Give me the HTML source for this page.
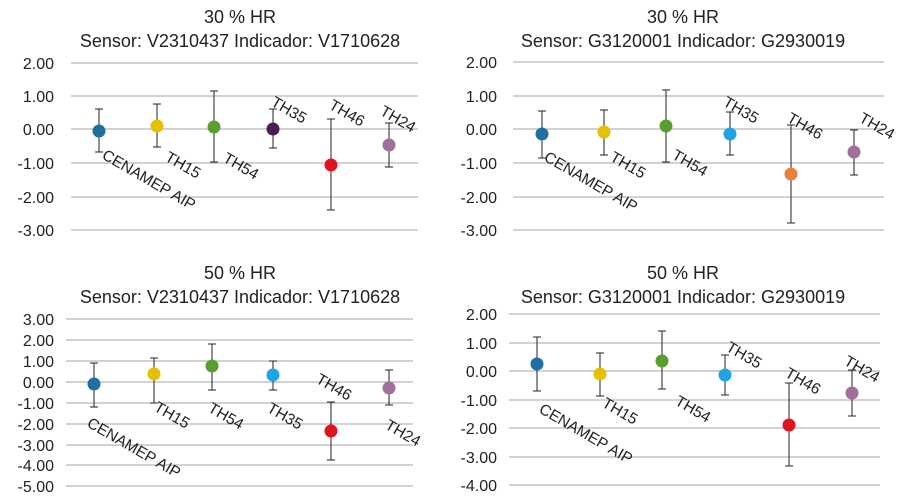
<!DOCTYPE html>
<html><head><meta charset="utf-8"><style>
body{margin:0;background:#fff;}
svg{display:block;font-family:"Liberation Sans",sans-serif;}
.t{font-size:18px;fill:#222;text-anchor:middle}
.k{font-size:16px;fill:#222;text-anchor:end}
.g{stroke:#a6a6a6;stroke-width:1}
.e{stroke:#222;stroke-width:1;fill:none}
.l{font-size:15.5px;fill:#222}
</style></head><body>
<svg width="897" height="502" viewBox="0 0 897 502">
<!-- Chart 1 -->
<text class="t" x="240" y="23">30 % HR</text>
<text class="t" x="240" y="47">Sensor: V2310437 Indicador: V1710628</text>
<g class="k"><text x="54" y="69">2.00</text><text x="54" y="102">1.00</text><text x="54" y="135">0.00</text><text x="54" y="169">-1.00</text><text x="54" y="203">-2.00</text><text x="54" y="236">-3.00</text></g>
<g class="g"><line x1="71" x2="418" y1="63" y2="63"/><line x1="71" x2="418" y1="96" y2="96"/><line x1="71" x2="418" y1="129" y2="129"/><line x1="71" x2="418" y1="163" y2="163"/><line x1="71" x2="418" y1="197" y2="197"/><line x1="71" x2="418" y1="230" y2="230"/></g>
<g class="e"><path d="M99 109V152M95 109h8M95 152h8M157 104V147M153 104h8M153 147h8M214 91V162M210 91h8M210 162h8M273 109V148M269 109h8M269 148h8M331 119V210M327 119h8M327 210h8M389 123V167M385 123h8M385 167h8"/></g>
<circle cx="99" cy="131" r="6.5" fill="#1f6fa0"/><circle cx="157" cy="126" r="6.5" fill="#e5c000"/><circle cx="214" cy="127" r="6.5" fill="#5a9e2f"/><circle cx="273" cy="129" r="6.5" fill="#4a1e55"/><circle cx="331" cy="165" r="6.5" fill="#e0141e"/><circle cx="389" cy="145" r="6.5" fill="#a0709a"/>
<g class="l"><text transform="translate(101,158) rotate(30)">CENAMEP AIP</text><text transform="translate(164,160) rotate(30)">TH15</text><text transform="translate(222,161) rotate(30)">TH54</text><text transform="translate(270,105) rotate(30)">TH35</text><text transform="translate(328,108) rotate(30)">TH46</text><text transform="translate(379,114) rotate(30)">TH24</text></g>

<!-- Chart 2 -->
<text class="t" x="683" y="23">30 % HR</text>
<text class="t" x="683" y="47">Sensor: G3120001 Indicador: G2930019</text>
<g class="k"><text x="497" y="68">2.00</text><text x="497" y="102">1.00</text><text x="497" y="135">0.00</text><text x="497" y="169">-1.00</text><text x="497" y="203">-2.00</text><text x="497" y="236">-3.00</text></g>
<g class="g"><line x1="513" x2="884" y1="62" y2="62"/><line x1="513" x2="884" y1="96" y2="96"/><line x1="513" x2="884" y1="129" y2="129"/><line x1="513" x2="884" y1="163" y2="163"/><line x1="513" x2="884" y1="197" y2="197"/><line x1="513" x2="884" y1="230" y2="230"/></g>
<g class="e"><path d="M542 111V158M538 111h8M538 158h8M604 110V155M600 110h8M600 155h8M666 90V162M662 90h8M662 162h8M730 112V155M726 112h8M726 155h8M791 125V223M787 125h8M787 223h8M854 130V175M850 130h8M850 175h8"/></g>
<circle cx="542" cy="134" r="6.5" fill="#1f6fa0"/><circle cx="604" cy="132" r="6.5" fill="#e5c000"/><circle cx="666" cy="126" r="6.5" fill="#5a9e2f"/><circle cx="730" cy="134" r="6.5" fill="#1ea5e6"/><circle cx="791" cy="174" r="6.5" fill="#e8823a"/><circle cx="854" cy="152" r="6.5" fill="#a0709a"/>
<g class="l"><text transform="translate(543,160) rotate(30)">CENAMEP AIP</text><text transform="translate(609,160) rotate(30)">TH15</text><text transform="translate(671,158) rotate(30)">TH54</text><text transform="translate(722,105) rotate(30)">TH35</text><text transform="translate(786,121) rotate(30)">TH46</text><text transform="translate(858,121) rotate(30)">TH24</text></g>

<!-- Chart 3 -->
<text class="t" x="240" y="279">50 % HR</text>
<text class="t" x="240" y="303">Sensor: V2310437 Indicador: V1710628</text>
<g class="k"><text x="54" y="325">3.00</text><text x="54" y="346">2.00</text><text x="54" y="367">1.00</text><text x="54" y="388">0.00</text><text x="54" y="409">-1.00</text><text x="54" y="430">-2.00</text><text x="54" y="451">-3.00</text><text x="54" y="471">-4.00</text><text x="54" y="492">-5.00</text></g>
<g class="g"><line x1="66" x2="413" y1="319" y2="319"/><line x1="66" x2="413" y1="340" y2="340"/><line x1="66" x2="413" y1="361" y2="361"/><line x1="66" x2="413" y1="382" y2="382"/><line x1="66" x2="413" y1="403" y2="403"/><line x1="66" x2="413" y1="424" y2="424"/><line x1="66" x2="413" y1="445" y2="445"/><line x1="66" x2="413" y1="465" y2="465"/><line x1="66" x2="413" y1="486" y2="486"/></g>
<g class="e"><path d="M94 363V407M90 363h8M90 407h8M154 358V403M150 358h8M150 403h8M212 344V390M208 344h8M208 390h8M273 361V390M269 361h8M269 390h8M331 402V460M327 402h8M327 460h8M389 370V405M385 370h8M385 405h8"/></g>
<circle cx="94" cy="384" r="6.5" fill="#1f6fa0"/><circle cx="154" cy="374" r="6.5" fill="#e5c000"/><circle cx="212" cy="366" r="6.5" fill="#5a9e2f"/><circle cx="273" cy="375" r="6.5" fill="#1ea5e6"/><circle cx="331" cy="431" r="6.5" fill="#e0141e"/><circle cx="389" cy="388" r="6.5" fill="#a0709a"/>
<g class="l"><text transform="translate(86,426) rotate(30)">CENAMEP AIP</text><text transform="translate(153,410) rotate(30)">TH15</text><text transform="translate(207,411) rotate(30)">TH54</text><text transform="translate(266,411) rotate(30)">TH35</text><text transform="translate(315,382) rotate(30)">TH46</text><text transform="translate(384,428) rotate(30)">TH24</text></g>

<!-- Chart 4 -->
<text class="t" x="683" y="279">50 % HR</text>
<text class="t" x="683" y="303">Sensor: G3120001 Indicador: G2930019</text>
<g class="k"><text x="497" y="320">2.00</text><text x="497" y="349">1.00</text><text x="497" y="377">0.00</text><text x="497" y="406">-1.00</text><text x="497" y="434">-2.00</text><text x="497" y="463">-3.00</text><text x="497" y="491">-4.00</text></g>
<g class="g"><line x1="509" x2="880" y1="314" y2="314"/><line x1="509" x2="880" y1="343" y2="343"/><line x1="509" x2="880" y1="371" y2="371"/><line x1="509" x2="880" y1="400" y2="400"/><line x1="509" x2="880" y1="428" y2="428"/><line x1="509" x2="880" y1="457" y2="457"/><line x1="509" x2="880" y1="485" y2="485"/></g>
<g class="e"><path d="M537 337V391M533 337h8M533 391h8M600 353V396M596 353h8M596 396h8M662 331V389M658 331h8M658 389h8M725 355V395M721 355h8M721 395h8M789 383V466M785 383h8M785 466h8M852 370V416M848 370h8M848 416h8"/></g>
<circle cx="537" cy="364" r="6.5" fill="#1f6fa0"/><circle cx="600" cy="374" r="6.5" fill="#e5c000"/><circle cx="662" cy="361" r="6.5" fill="#5a9e2f"/><circle cx="725" cy="375" r="6.5" fill="#1ea5e6"/><circle cx="789" cy="425" r="6.5" fill="#e0141e"/><circle cx="852" cy="393" r="6.5" fill="#a0709a"/>
<g class="l"><text transform="translate(538,412) rotate(30)">CENAMEP AIP</text><text transform="translate(601,406) rotate(30)">TH15</text><text transform="translate(674,404) rotate(30)">TH54</text><text transform="translate(725,350) rotate(30)">TH35</text><text transform="translate(784,376) rotate(30)">TH46</text><text transform="translate(843,364) rotate(30)">TH24</text></g>
</svg>
</body></html>
